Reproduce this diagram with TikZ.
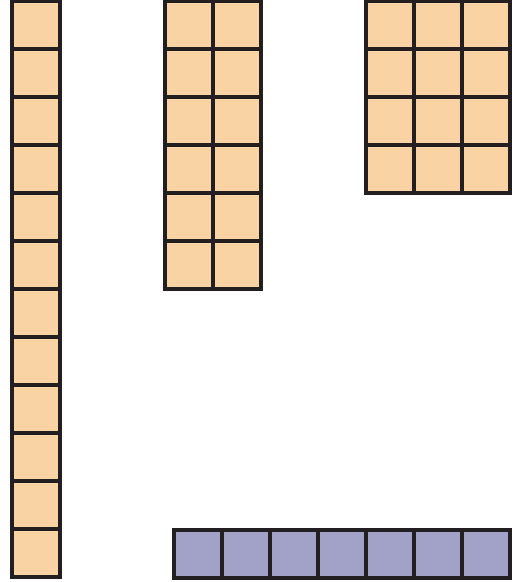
\documentclass[tikz,border=0pt]{standalone}
\usepackage{tikz}
\usepackage{xcolor}
\definecolor{tilecolor}{RGB}{250,211,165}
\definecolor{barcolor}{RGB}{162,162,201}
\definecolor{edgecolor}{RGB}{35,31,32}

\begin{document}
\begin{tikzpicture}[
    x=0.5pt, y=-0.5pt,
    tile/.style={draw=edgecolor, line width=1.6pt, fill=tilecolor},
    bartile/.style={draw=edgecolor, line width=1.6pt, fill=barcolor}
]
\useasboundingbox (0,0) rectangle (520,582);
% 1 x 12 column
\foreach \r in {0,...,11}
  \draw[tile] (12,1+48*\r) rectangle ++(48,48);
% 2 x 6 block
\foreach \c in {0,1}
  \foreach \r in {0,...,5}
    \draw[tile] (165+48*\c,1+48*\r) rectangle ++(48,48);
% 3 x 4 block
\foreach \c in {0,1,2}
  \foreach \r in {0,...,3}
    \draw[tile] (366+48*\c,1+48*\r) rectangle ++(48,48);
% 7 x 1 row
\foreach \c in {0,...,6}
  \draw[bartile] (174+48*\c,530) rectangle ++(48,48);
\end{tikzpicture}
\end{document}
